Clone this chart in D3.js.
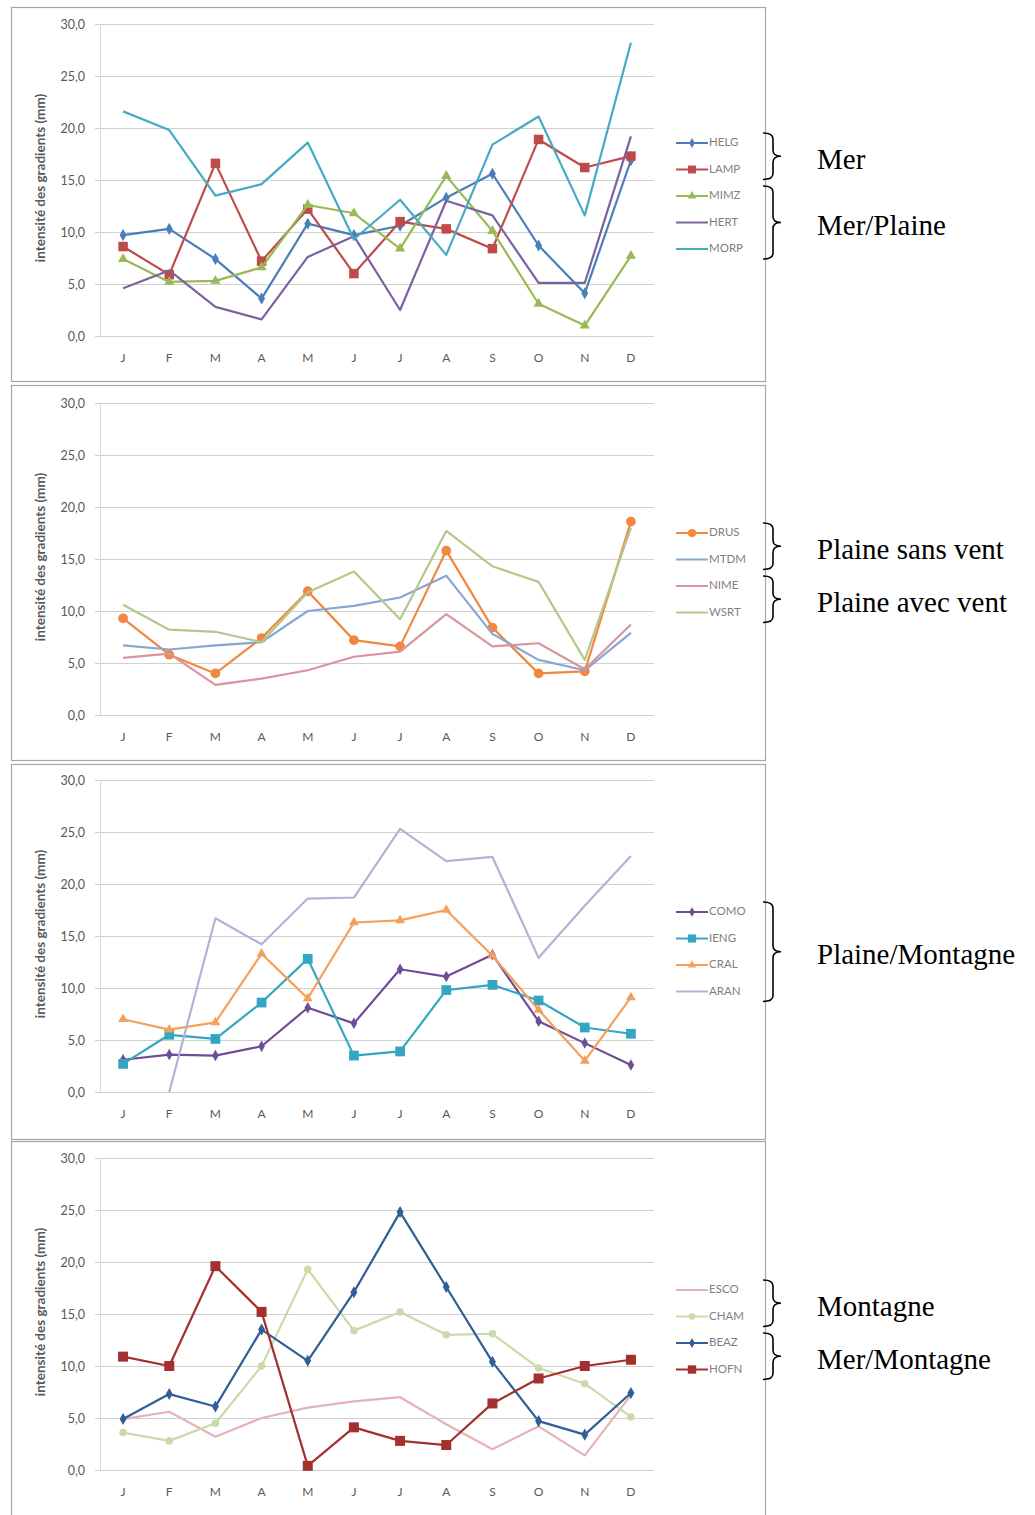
<!DOCTYPE html>
<html><head><meta charset="utf-8">
<script src="https://cdn.jsdelivr.net/npm/d3@7"></script>
<style>
html,body{margin:0;padding:0;background:#fff;}
svg{display:block;}
</style></head>
<body>
<svg id="chart" width="1035" height="1515"></svg>
<script>
// ---------- DATA ----------
const months = ["J","F","M","A","M","J","J","A","S","O","N","D"];
const yTicks = [0,5,10,15,20,25,30];
const yTitle = "intensité des gradients (mm)";

// Panel 1
const HELG = [9.7,10.3,7.4,3.6,10.8,9.7,10.6,13.3,15.6,8.7,4.1,16.9];
const LAMP = [8.6,5.9,16.6,7.2,12.2,6.0,11.0,10.3,8.4,18.9,16.2,17.3];
const MIMZ = [7.4,5.2,5.3,6.6,12.6,11.8,8.4,15.4,10.1,3.1,1.0,7.7];
const HERT = [4.6,6.3,2.8,1.6,7.6,9.6,2.5,13.0,11.6,5.1,5.1,19.2];
const MORP = [21.6,19.8,13.5,14.6,18.6,9.3,13.1,7.8,18.4,21.1,11.6,28.2];
// Panel 2
const DRUS = [9.3,5.8,4.0,7.4,11.9,7.2,6.6,15.8,8.4,4.0,4.2,18.6];
const MTDM = [6.7,6.3,6.7,7.0,10.0,10.5,11.3,13.4,7.8,5.3,4.3,7.9];
const NIME = [5.5,5.9,2.9,3.5,4.3,5.6,6.1,9.7,6.6,6.9,4.4,8.7];
const WSRT = [10.6,8.2,8.0,7.0,11.8,13.8,9.2,17.7,14.3,12.8,5.3,18.0];
// Panel 3
const COMO = [3.1,3.6,3.5,4.4,8.1,6.6,11.8,11.1,13.2,6.8,4.7,2.6];
const IENG = [2.7,5.5,5.1,8.6,12.8,3.5,3.9,9.8,10.3,8.8,6.2,5.6];
const CRAL = [7.0,6.0,6.7,13.3,9.0,16.3,16.5,17.5,13.1,7.9,3.0,9.1];
const ARAN = [null,0.0,16.7,14.2,18.6,18.7,25.3,22.2,22.6,12.9,17.9,22.7];
// Panel 4
const ESCO = [4.9,5.6,3.2,5.0,6.0,6.6,7.0,4.4,2.0,4.2,1.4,7.2];
const CHAM = [3.6,2.8,4.5,10.0,19.3,13.4,15.2,13.0,13.1,9.8,8.3,5.1];
const BEAZ = [4.9,7.3,6.1,13.5,10.5,17.1,24.8,17.6,10.4,4.7,3.4,7.4];
const HOFN = [10.9,10.0,19.6,15.2,0.4,4.1,2.8,2.4,6.4,8.8,10.0,10.6];

const seriesNames = [
  ["HELG","LAMP","MIMZ","HERT","MORP"],
  ["DRUS","MTDM","NIME","WSRT"],
  ["COMO","IENG","CRAL","ARAN"],
  ["ESCO","CHAM","BEAZ","HOFN"]
];
const seriesData = {HELG,LAMP,MIMZ,HERT,MORP,DRUS,MTDM,NIME,WSRT,COMO,IENG,CRAL,ARAN,ESCO,CHAM,BEAZ,HOFN};
const groupLabels = [
  [["Mer",0,1],["Mer/Plaine",2,4]],
  [["Plaine sans vent",0,1],["Plaine avec vent",2,3]],
  [["Plaine/Montagne",0,3]],
  [["Montagne",0,1],["Mer/Montagne",2,3]]
];

// ---------- STYLES ----------
const styles = {
  HELG:{c:"#4a7ebb",m:"diamond",s:42},
  LAMP:{c:"#be4b48",m:"square",s:90},
  MIMZ:{c:"#98b954",m:"triangle",s:45},
  HERT:{c:"#7d60a0",m:null},
  MORP:{c:"#46aac5",m:null},
  DRUS:{c:"#f0893f",m:"circle",s:75},
  MTDM:{c:"#87a5d6",m:null},
  NIME:{c:"#d9959b",m:null},
  WSRT:{c:"#b3c98c",m:null},
  COMO:{c:"#6e4c98",m:"diamond",s:38},
  IENG:{c:"#35a6c2",m:"square",s:95},
  CRAL:{c:"#f4a05a",m:"triangle",s:42},
  ARAN:{c:"#b6b0d6",m:null},
  ESCO:{c:"#e5b3b6",m:null},
  CHAM:{c:"#cbdaa9",m:"circle",s:45},
  BEAZ:{c:"#305e97",m:"diamond",s:42},
  HOFN:{c:"#a3302f",m:"square",s:100}
};
const symMap = {diamond:d3.symbolDiamond,square:d3.symbolSquare,triangle:d3.symbolTriangle,circle:d3.symbolCircle};

// ---------- LAYOUT ----------
const gridTop = [24,403,780,1158];
const boxes = [[7,381],[385,760],[764,1139],[1141,1525]];
const legendTop = [143,533,912,1290];
const plotH = 312;
const plotL = 100, plotR = 654;
const fmt = v => d3.format(".1f")(v).replace(".", ",");
const sans = "Lato, 'Open Sans', sans-serif";

const svg = d3.select("#chart");

const x = d3.scaleBand().domain(d3.range(12)).range([plotL, plotR]).paddingInner(0).paddingOuter(0);
const xc = i => x(i) + x.bandwidth()/2;

function bracePath(x0, y0, y1) {
  const m = (y0+y1)/2, w = 10, r = 6;
  return `M${x0},${y0} Q${x0+w},${y0} ${x0+w},${y0+r} L${x0+w},${m-r} Q${x0+w},${m} ${x0+w+8},${m} Q${x0+w},${m} ${x0+w},${m+r} L${x0+w},${y1-r} Q${x0+w},${y1} ${x0},${y1}`;
}

seriesNames.forEach((names, p) => {
  const top = gridTop[p], bottom = top + plotH;
  const g = svg.append("g");
  // box
  g.append("rect").attr("x",11.5).attr("y",boxes[p][0]+0.5)
    .attr("width",754).attr("height",boxes[p][1]-boxes[p][0])
    .attr("fill","#fff").attr("stroke","#a6a6a6").attr("stroke-width",1.2);

  const y = d3.scaleLinear().domain([0,30]).range([bottom, top]);

  // gridlines
  g.append("g").selectAll("line").data(yTicks).join("line")
    .attr("x1",plotL-5).attr("x2",plotR)
    .attr("y1",d=>Math.round(y(d))+0.5).attr("y2",d=>Math.round(y(d))+0.5)
    .attr("stroke","#d0d0d0").attr("stroke-width",1);
  g.append("line").attr("x1",plotL+0.5).attr("x2",plotL+0.5).attr("y1",top).attr("y2",bottom)
    .attr("stroke","#dadada");

  // y axis labels
  const ya = g.append("g").attr("transform",`translate(${plotL},0)`)
    .call(d3.axisLeft(y).tickValues(yTicks).tickFormat(fmt).tickSize(0).tickPadding(15));
  ya.select(".domain").remove();
  ya.selectAll("text").attr("fill","#595959").attr("font-size",12.5).attr("font-family",sans);

  // x axis labels
  const xa = g.append("g").attr("transform",`translate(0,${bottom})`)
    .call(d3.axisBottom(x).tickFormat(i=>months[i]).tickSize(0).tickPadding(17));
  xa.select(".domain").remove();
  xa.selectAll("text").attr("fill","#595959").attr("font-size",12).attr("font-family",sans);

  // y title
  g.append("text").attr("transform",`translate(42,${(top+bottom)/2 - 2}) rotate(-90)`)
    .attr("text-anchor","middle").attr("dominant-baseline","middle")
    .attr("font-size",13.5).attr("font-weight","bold").attr("fill","#595959")
    .attr("font-family",sans).text(yTitle);

  // lines
  const line = d3.line().defined(d=>d!=null).x((d,i)=>xc(i)).y(d=>y(d));
  names.forEach(n => {
    const st = styles[n], data = seriesData[n];
    g.append("path").datum(data).attr("d",line).attr("fill","none")
      .attr("stroke",st.c).attr("stroke-width",2.2).attr("stroke-linejoin","round");
    if (st.m) {
      g.append("g").selectAll("path").data(data.map((v,i)=>({v,i})).filter(d=>d.v!=null)).join("path")
        .attr("transform",d=>`translate(${xc(d.i)},${y(d.v)})`)
        .attr("d",d3.symbol().type(symMap[st.m]).size(st.s))
        .attr("fill",st.c);
    }
  });

  // legend
  const lg = g.append("g");
  names.forEach((n,k) => {
    const st = styles[n], ly = legendTop[p] + k*26.5;
    lg.append("line").attr("x1",676).attr("x2",708).attr("y1",ly).attr("y2",ly)
      .attr("stroke",st.c).attr("stroke-width",2);
    if (st.m) lg.append("path").attr("transform",`translate(692,${ly})`)
      .attr("d",d3.symbol().type(symMap[st.m]).size(st.s*0.7)).attr("fill",st.c);
    lg.append("text").attr("x",709).attr("y",ly+0.5).attr("dominant-baseline","middle")
      .attr("font-size",11.5).attr("fill","#7f7f7f").attr("font-family",sans).text(n);
  });

  // braces + group labels
  groupLabels[p].forEach(([lab,a,b]) => {
    const y0 = legendTop[p] + a*26.5 - 10, y1 = legendTop[p] + b*26.5 + 10;
    svg.append("path").attr("d",bracePath(763,y0,y1)).attr("fill","none")
      .attr("stroke","#000").attr("stroke-width",1.6);
    svg.append("text").attr("x",817).attr("y",(y0+y1)/2+6).attr("dominant-baseline","middle")
      .attr("font-family","'Liberation Serif','Times New Roman',serif").attr("font-size",29)
      .attr("fill","#000").text(lab);
  });
});
</script>
</body></html>
